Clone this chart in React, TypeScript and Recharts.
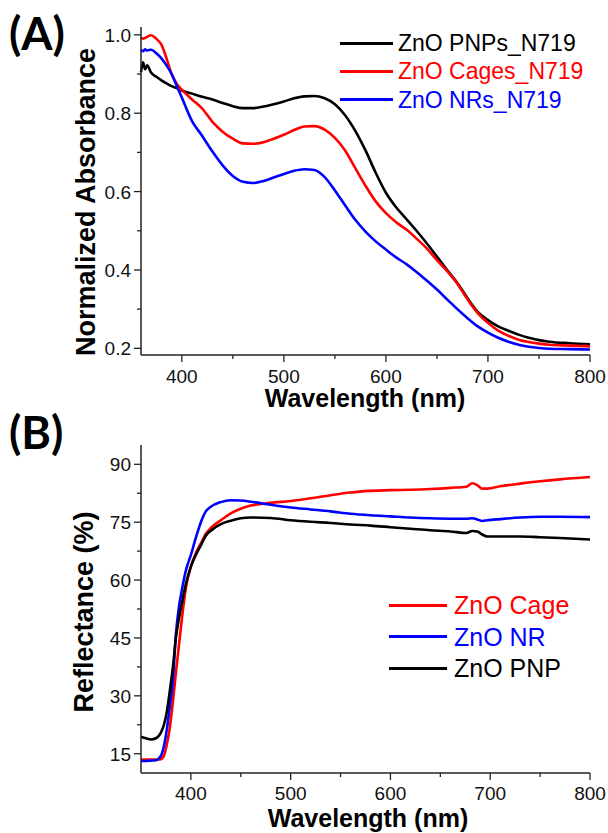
import { Label, Line, LineChart, XAxis, YAxis } from "recharts";

// (A) normalized absorbance, dye-loaded films
const absWavelength = [
  360, 362, 364, 366, 370, 375, 380, 385, 390, 395, 400, 410, 420, 430, 440,
  450, 460, 470, 480, 490, 500, 510, 520, 530, 540, 550, 560, 570, 580, 590,
  600, 610, 620, 630, 640, 650, 660, 670, 680, 690, 700, 710, 720, 730, 740,
  750, 760, 780, 800,
];
const absPnp = [
  0.905, 0.93, 0.912, 0.922, 0.903, 0.893, 0.884, 0.876, 0.869, 0.864, 0.858,
  0.85, 0.842, 0.835, 0.826, 0.818, 0.813, 0.813, 0.817, 0.823, 0.83, 0.838,
  0.843, 0.844, 0.838, 0.823, 0.795, 0.755, 0.705, 0.648, 0.597, 0.56, 0.53,
  0.5, 0.468, 0.434, 0.4, 0.367, 0.328, 0.293, 0.272, 0.256, 0.245, 0.235,
  0.227, 0.221, 0.217, 0.213, 0.21,
];
const absCage = [
  0.993, 0.99, 0.992, 0.995, 0.999, 0.99, 0.975, 0.94, 0.9, 0.875, 0.86, 0.835,
  0.812, 0.778, 0.753, 0.735, 0.723, 0.722, 0.726, 0.735, 0.745, 0.757, 0.766,
  0.767, 0.758, 0.737, 0.705, 0.66, 0.615, 0.575, 0.545, 0.522, 0.503, 0.48,
  0.455, 0.425, 0.397, 0.365, 0.325, 0.29, 0.265, 0.245, 0.232, 0.222, 0.216,
  0.212, 0.209, 0.207, 0.205,
];
const absNr = [
  0.962, 0.958, 0.963, 0.96, 0.962, 0.953, 0.94, 0.922, 0.9, 0.87, 0.84, 0.78,
  0.742, 0.702, 0.667, 0.64, 0.625, 0.622, 0.627, 0.636, 0.645, 0.653, 0.657,
  0.655, 0.637, 0.603, 0.565, 0.528, 0.498, 0.473, 0.452, 0.432, 0.415, 0.395,
  0.373, 0.35, 0.325, 0.3, 0.277, 0.256, 0.24, 0.227, 0.217, 0.209, 0.204,
  0.201, 0.199, 0.198, 0.197,
];

// (B) diffuse reflectance of bare films
const refWavelength = [
  350, 355, 360, 365, 370, 373, 376, 379, 382, 385, 388, 391, 395, 400, 405,
  410, 415, 420, 430, 440, 450, 460, 480, 500, 520, 540, 560, 580, 600, 620,
  640, 660, 676, 682, 687, 692, 697, 710, 730, 750, 770, 800,
];
const refCage = [
  13.5, 13.5, 13.5, 13.5, 13.6, 14.5, 17.5, 22, 28.5, 36, 43, 50, 58, 63.5,
  67, 69.5, 72, 73.5, 75.5, 77.3, 78.5, 79.3, 80, 80.5, 81.2, 82, 82.7, 83.1,
  83.3, 83.4, 83.6, 83.9, 84.2, 85.1, 84.6, 83.7, 83.7, 84.3, 85, 85.6, 86.1,
  86.7,
];
const refNr = [
  13.1, 13.1, 13.2, 13.3, 14.5, 17, 21.5, 27.5, 34, 46, 53, 57.5, 62.5, 66.5,
  71, 75, 77.8, 79, 80.2, 80.7, 80.6, 80.3, 79.5, 78.8, 78.3, 77.8, 77.2, 76.8,
  76.5, 76.2, 76, 75.9, 75.9, 76, 75.7, 75.3, 75.5, 75.8, 76.2, 76.4, 76.4,
  76.3,
];
const refPnp = [
  19.4, 19, 18.7, 19, 20.5, 22.5, 26, 31.5, 37.5, 45, 50, 54, 59, 63.5, 66.5,
  69, 71.5, 72.8, 74.5, 75.4, 76, 76.2, 76.1, 75.5, 75.1, 74.8, 74.4, 74.1,
  73.7, 73.3, 72.9, 72.6, 72.2, 72.7, 72.6, 71.8, 71.3, 71.3, 71.3, 71.1, 70.9,
  70.5,
];

const xTicks = [400, 450, 500, 550, 600, 650, 700, 750, 800];
const xMajor = [400, 500, 600, 700, 800];
const absTicks = [0.2, 0.3, 0.4, 0.5, 0.6, 0.7, 0.8, 0.9, 1.0];
const absMajor = [0.2, 0.4, 0.6, 0.8, 1.0];
const refTicks = [15, 22.5, 30, 37.5, 45, 52.5, 60, 67.5, 75, 82.5, 90];
const refMajor = [15, 30, 45, 60, 75, 90];

const absSeries = [
  { key: "pnp", name: "ZnO PNPs_N719", color: "#000000" },
  { key: "cage", name: "ZnO Cages_N719", color: "#ff0000" },
  { key: "nr", name: "ZnO NRs_N719", color: "#0000ff" },
];
const refSeries = [
  { key: "cage", name: "ZnO Cage", color: "#ff0000" },
  { key: "nr", name: "ZnO NR", color: "#0000ff" },
  { key: "pnp", name: "ZnO PNP", color: "#000000" },
];

const absData = absWavelength.map((wl, i) => ({
  wl,
  pnp: absPnp[i],
  cage: absCage[i],
  nr: absNr[i],
}));
const refData = refWavelength.map((wl, i) => ({
  wl,
  cage: refCage[i],
  nr: refNr[i],
  pnp: refPnp[i],
}));

const tickFont = "'Liberation Sans', Arial, sans-serif";
const axisColor = "#222";

function makeXTick(labelOffset: number) {
  return (props: any) => {
    const { x, y, payload } = props;
    const major = xMajor.includes(payload.value);
    return (
      <g>
        <line x1={x} x2={x} y1={y} y2={y + (major ? 7 : 4)} stroke={axisColor} strokeWidth={1.3} />
        {major && (
          <text x={x} y={y + labelOffset} textAnchor="middle" fontSize={19} fontFamily={tickFont} fill="#111">
            {payload.value}
          </text>
        )}
      </g>
    );
  };
}

function makeYTick(majors: number[], digits: number) {
  return (props: any) => {
    const { x, y, payload } = props;
    const major = majors.includes(payload.value);
    return (
      <g>
        <line x1={x} x2={x - (major ? 7 : 4)} y1={y} y2={y} stroke={axisColor} strokeWidth={1.3} />
        {major && (
          <text x={x - 10} y={y + 7} textAnchor="end" fontSize={19} fontFamily={tickFont} fill="#111">
            {payload.value.toFixed(digits)}
          </text>
        )}
      </g>
    );
  };
}

function LegendBox({ items, top, rowGap, lineLeft, lineLen, textLeft, fontSize }: any) {
  return (
    <>
      {items.map((s: any, i: number) => (
        <div key={s.key}>
          <div
            style={{
              position: "absolute",
              left: lineLeft,
              top: top + i * rowGap - 1.5,
              width: lineLen,
              height: 3,
              background: s.color,
            }}
          />
          <div
            style={{
              position: "absolute",
              left: textLeft,
              top: top + i * rowGap - 15,
              height: 30,
              lineHeight: "30px",
              fontSize,
              fontFamily: tickFont,
              color: s.color,
              whiteSpace: "nowrap",
            }}
          >
            {s.name}
          </div>
        </div>
      ))}
    </>
  );
}

function PanelLabel({ text, top }: { text: string; top: number }) {
  return (
    <div
      style={{
        position: "absolute",
        left: 9,
        top,
        fontFamily: "Lato, 'Open Sans', sans-serif",
        fontWeight: 700,
        fontSize: 45,
        lineHeight: "45px",
        color: "#000",
      }}
    >
      {text}
    </div>
  );
}

export default function App() {
  return (
    <div style={{ position: "absolute", left: 0, top: 0, width: 608, height: 833, background: "#fff" }}>
      <div style={{ position: "absolute", left: 0, top: 0 }}>
        <LineChart width={608} height={415} data={absData} margin={{ top: 27, right: 18, bottom: 0, left: 0 }}>
          <XAxis
            dataKey="wl"
            type="number"
            domain={[360, 800]}
            ticks={xTicks}
            interval={0}
            height={60}
            tickSize={0}
            tickMargin={0}
            tickLine={false}
            tick={makeXTick(28)}
            axisLine={{ stroke: axisColor, strokeWidth: 1.5 }}
          >
            <Label
              content={() => (
                <text x={365} y={407} textAnchor="middle" fontSize={25} fontWeight={700} fontFamily={tickFont}>
                  Wavelength (nm)
                </text>
              )}
            />
          </XAxis>
          <XAxis xAxisId="top" dataKey="wl" type="number" domain={[360, 800]} orientation="top" height={0} tick={false} tickLine={false} axisLine={{ stroke: axisColor, strokeWidth: 1.3 }} />
          <YAxis
            type="number"
            domain={[0.183, 1.02]}
            ticks={absTicks}
            interval={0}
            width={141}
            tickSize={0}
            tickMargin={0}
            tickLine={false}
            tick={makeYTick(absMajor, 1)}
            axisLine={{ stroke: axisColor, strokeWidth: 1.5 }}
          >
            <Label
              content={() => (
                <text x={95} y={202} transform="rotate(-90 95 202)" textAnchor="middle" fontSize={27} fontWeight={700} fontFamily={tickFont}>
                  Normalized Absorbance
                </text>
              )}
            />
          </YAxis>
          <YAxis yAxisId="right" type="number" domain={[0.183, 1.02]} orientation="right" width={0} tick={false} tickLine={false} axisLine={{ stroke: axisColor, strokeWidth: 1.5 }} />
          {absSeries.map((s) => (
            <Line
              key={s.key}
              dataKey={s.key}
              name={s.name}
              type="monotone"
              stroke={s.color}
              strokeWidth={2.6}
              dot={false}
              isAnimationActive={false}
            />
          ))}
        </LineChart>
      </div>
      <div style={{ position: "absolute", left: 0, top: 400 }}>
        <LineChart width={608} height={433} data={refData} margin={{ top: 45, right: 18, bottom: 0, left: 0 }}>
          <XAxis
            dataKey="wl"
            type="number"
            domain={[350, 800]}
            ticks={xTicks}
            interval={0}
            height={60}
            tickSize={0}
            tickMargin={0}
            tickLine={false}
            tick={makeXTick(27)}
            axisLine={{ stroke: axisColor, strokeWidth: 1.5 }}
          >
            <Label
              content={() => (
                <text x={368} y={427} textAnchor="middle" fontSize={25} fontWeight={700} fontFamily={tickFont}>
                  Wavelength (nm)
                </text>
              )}
            />
          </XAxis>
          <XAxis xAxisId="top" dataKey="wl" type="number" domain={[350, 800]} orientation="top" height={0} tick={false} tickLine={false} axisLine={{ stroke: axisColor, strokeWidth: 1.3 }} />
          <YAxis
            type="number"
            domain={[10, 95]}
            ticks={refTicks}
            interval={0}
            width={141}
            tickSize={0}
            tickMargin={0}
            tickLine={false}
            tick={makeYTick(refMajor, 0)}
            axisLine={{ stroke: axisColor, strokeWidth: 1.5 }}
          >
            <Label
              content={() => (
                <text x={93} y={212} transform="rotate(-90 93 212)" textAnchor="middle" fontSize={27} fontWeight={700} fontFamily={tickFont}>
                  Reflectance (%)
                </text>
              )}
            />
          </YAxis>
          <YAxis yAxisId="right" type="number" domain={[10, 95]} orientation="right" width={0} tick={false} tickLine={false} axisLine={{ stroke: "#555", strokeWidth: 2 }} />
          {refSeries.map((s) => (
            <Line
              key={s.key}
              dataKey={s.key}
              name={s.name}
              type="monotone"
              stroke={s.color}
              strokeWidth={2.6}
              dot={false}
              isAnimationActive={false}
            />
          ))}
        </LineChart>
      </div>
      <LegendBox items={absSeries} top={43} rowGap={28.3} lineLeft={340} lineLen={53} textLeft={398} fontSize={23} />
      <LegendBox items={refSeries} top={605} rowGap={31.6} lineLeft={389} lineLen={58} textLeft={454} fontSize={25} />
      <PanelLabel text="(A)" top={11} />
      <PanelLabel text="(B)" top={410} />
    </div>
  );
}
